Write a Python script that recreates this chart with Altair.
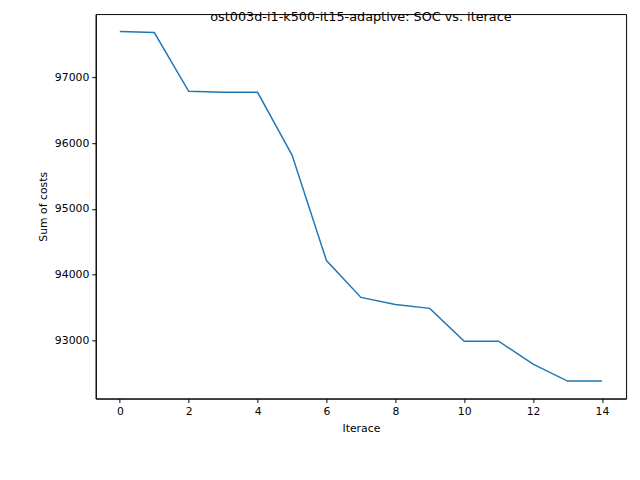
import pandas as pd
import altair as alt

# values
iterace = list(range(15))
soc = [97697, 97682, 96788, 96773, 96773, 95818, 94212, 93652,
       93545, 93485, 92985, 92985, 92636, 92379, 92379]

df = pd.DataFrame({"iterace": iterace, "soc": soc})

chart = (alt.Chart(df, title=alt.TitleParams("ost003d-i1-k500-it15-adaptive: SOC vs. iterace", offset=-10))
    .mark_line(color="#1f77b4", strokeWidth=1.5, clip=True)
    .encode(
        alt.X("iterace:Q", title="Iterace",
              scale=alt.Scale(domain=[-0.7, 14.7], nice=False, zero=False),
              axis=alt.Axis(values=list(range(0, 15, 2)), grid=False)),
        alt.Y("soc:Q", title="Sum of costs",
              scale=alt.Scale(domain=[92113, 97963], nice=False, zero=False),
              axis=alt.Axis(values=[93000, 94000, 95000, 96000, 97000], format="d", grid=False)))
    .properties(width=538, height=390, padding={"left": 30, "top": 0, "right": 6, "bottom": 10})
    .configure_view(stroke="black", strokeWidth=1)
    .configure_axis(labelFont="DejaVu Sans", titleFont="DejaVu Sans", labelFontSize=11,
                    titleFontSize=11, titleFontWeight="normal", labelColor="black",
                    titleColor="black", domainColor="black", tickColor="black",
                    tickSize=4, labelPadding=3, titlePadding=6)
    .configure_title(font="DejaVu Sans", fontSize=13, fontWeight="normal"))

chart.save("out.html", embed_options={"renderer": "svg", "actions": False})
